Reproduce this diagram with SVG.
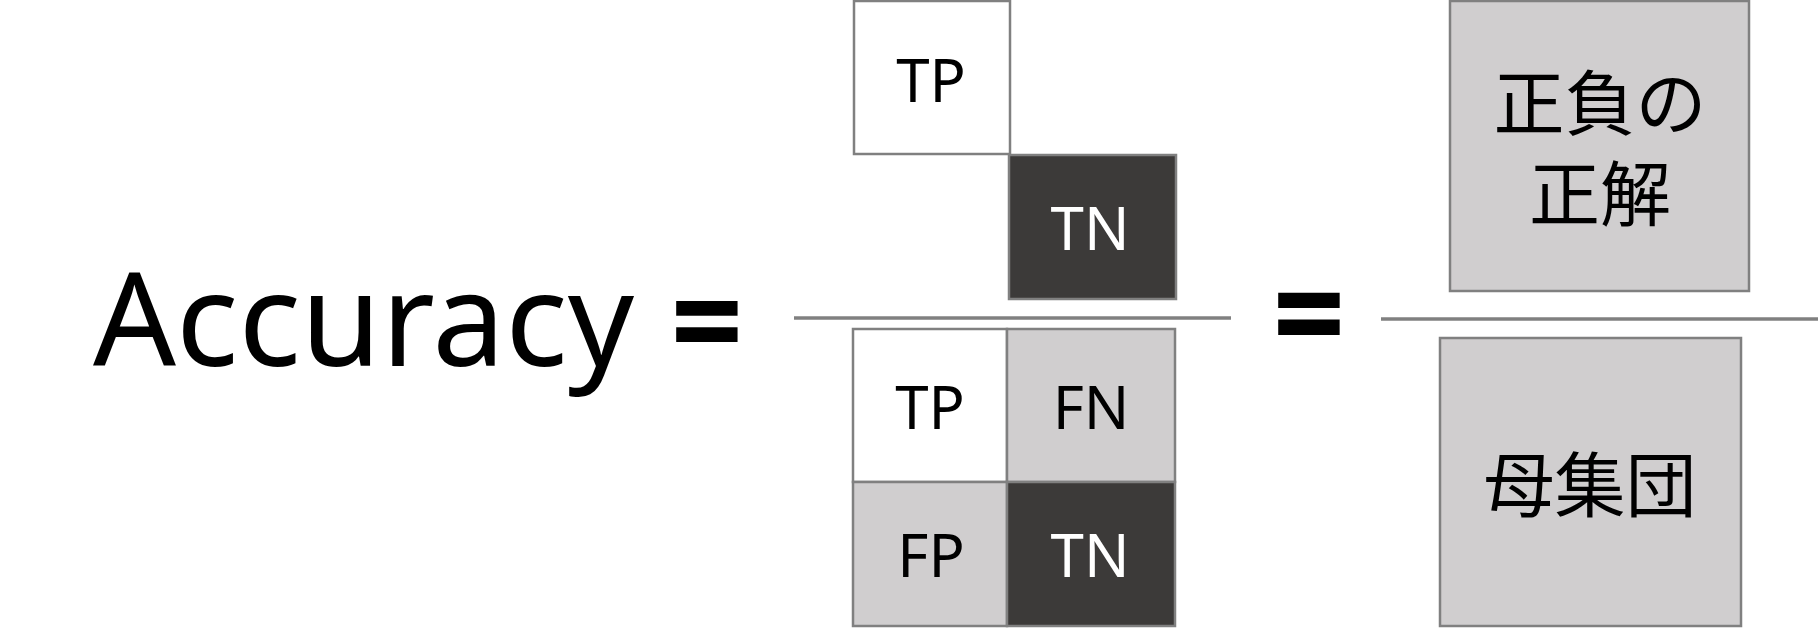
<svg xmlns="http://www.w3.org/2000/svg" width="1820" height="628" viewBox="0 0 1820 628">
<style>
.box{stroke:#808080;stroke-width:2.5}
.w{fill:#ffffff}
.g{fill:#d0cecf}
.d{fill:#3c3a39}
.lbl{font-family:"Noto Sans","Open Sans",sans-serif;font-size:60px;text-anchor:middle}
.bk{fill:#000000}
.wt{fill:#ffffff}
.jp{font-family:"Noto Sans CJK JP","Noto Sans CJK SC",sans-serif;font-size:71px;text-anchor:middle;fill:#000}
.bar{stroke:#808080;stroke-width:3.5}
.big{font-family:"Noto Sans","Open Sans",sans-serif;fill:#000}
.eq{font-family:"Noto Sans","Open Sans",sans-serif;fill:#000;font-weight:bold;text-anchor:middle}
</style>
<rect width="1820" height="628" fill="#ffffff"/>
<g id="accuracy">
<text class="big" x="93" y="366" font-size="130">Accuracy</text>
<text class="eq" transform="translate(707,370) scale(0.91,1)" x="0" y="0" font-size="139">=</text>
</g>
<g id="num-tp"><rect class="box w" x="854" y="1" width="156" height="153"/><text class="lbl bk" x="931" y="102">TP</text></g>
<g id="num-tn"><rect class="box d" x="1009" y="155" width="167" height="144"/><text class="lbl wt" x="1090" y="250">TN</text></g>
<g id="den-tp"><rect class="box w" x="853" y="329" width="154" height="153"/><text class="lbl bk" x="930" y="429">TP</text></g>
<g id="den-fn"><rect class="box g" x="1007" y="329" width="168" height="153"/><text class="lbl bk" x="1091" y="429">FN</text></g>
<g id="den-fp"><rect class="box g" x="853" y="482" width="154" height="144"/><text class="lbl bk" x="931" y="577">FP</text></g>
<g id="den-tn"><rect class="box d" x="1007" y="482" width="168" height="144"/><text class="lbl wt" x="1090" y="577">TN</text></g>
<g id="eq2"><text class="eq" transform="translate(1309,364) scale(0.88,1)" x="0" y="0" font-size="144">=</text></g>
<g id="correct"><rect class="box g" x="1450" y="1" width="299" height="290"/>
<text class="jp" x="1600" y="129">正負の</text>
<text class="jp" x="1600" y="220">正解</text></g>
<g id="population"><rect class="box g" x="1440" y="338" width="301" height="288"/>
<text class="jp" x="1590" y="511">母集団</text></g>
<g id="connectors">
<line class="bar" x1="794" y1="318" x2="1231" y2="318"/>
<line class="bar" x1="1381" y1="319" x2="1818" y2="319"/>
</g>
</svg>
